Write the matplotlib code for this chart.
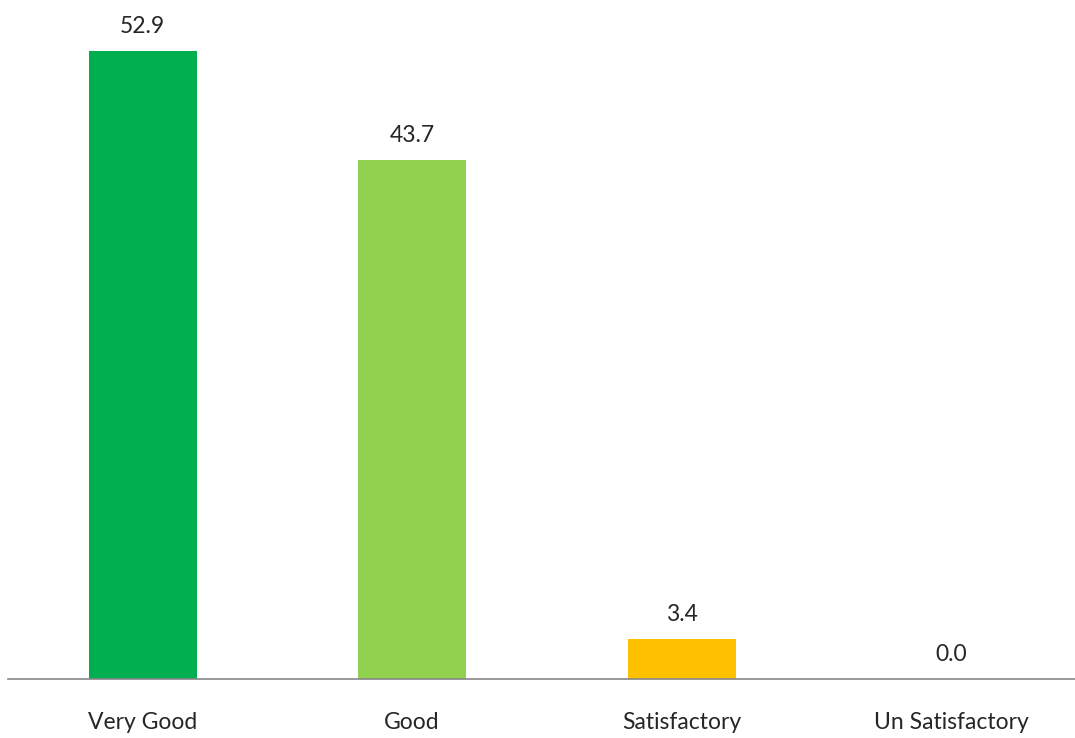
import matplotlib
matplotlib.use("Agg")
import matplotlib.pyplot as plt

categories = ["Very Good", "Good", "Satisfactory", "Un Satisfactory"]
values = [52.9, 43.7, 3.4, 0.0]
colors = ["#00B050", "#92D050", "#FFC000", "#FFFFFF"]

plt.rcParams['font.family'] = ['Lato', 'DejaVu Sans']

fig = plt.figure(figsize=(10.75, 7.38), dpi=100)
ax = fig.add_axes([8/1075, 59/738, 1 - 8/1075, 679/738])
x = list(range(len(categories)))
bars = ax.bar(x, values, width=0.4, color=colors)
ax.set_xlim(-0.5, 3.46)
ax.set_ylim(0, 57.2)

for xi, v in zip(x, values):
    ax.annotate(f"{v:.1f}", xy=(xi, v), xytext=(0, 10), textcoords="offset points",
                ha="center", va="bottom", fontsize=16.5, color="#262626")

ax.set_xticks(x)
ax.set_xticklabels(categories, fontsize=16.5, color="#262626")
ax.tick_params(axis="x", length=0, pad=24)
ax.set_yticks([])
for s in ["top", "right", "left"]:
    ax.spines[s].set_visible(False)
ax.spines["bottom"].set_color("#868686")
ax.spines["bottom"].set_linewidth(1.2)

fig.savefig("out.png", dpi=100)
